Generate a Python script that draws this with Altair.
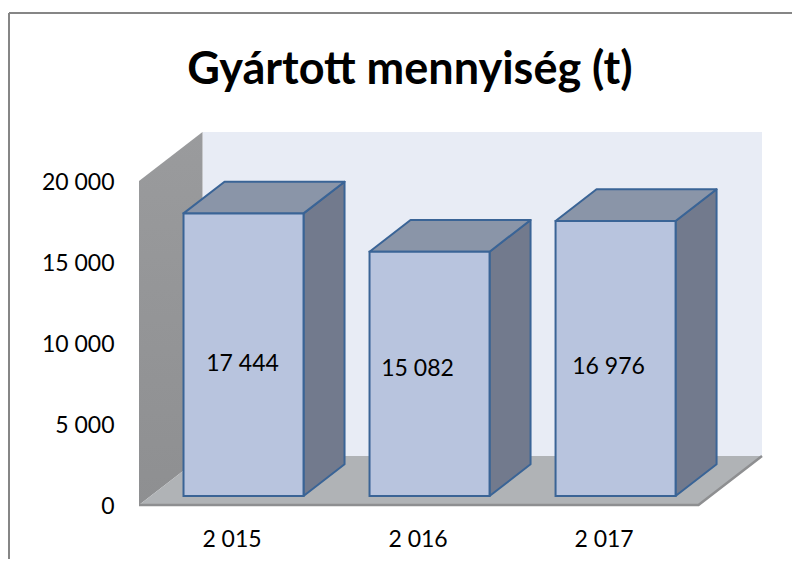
import altair as alt
import pandas as pd

# Chart values
years = ["2 015", "2 016", "2 017"]
values = [17444, 15082, 16976]
value_labels = ["17 444", "15 082", "16 976"]
y_ticks = [0, 5000, 10000, 15000, 20000]

# Layout of the pseudo-3D scene, in scale units
FONT = "Lato"
PX_X = 186.0            # pixels per category
PX_Y = 0.0162           # pixels per unit of value
FRONT_L, FRONT_R = -0.5027, 2.505
WALL_DX = 63.5 / PX_X
WALL_DY = 49 / PX_Y
WALL_TOP = 20000
BAR_L, BAR_W = -0.2634, 120 / PX_X
BAR_BASE = 9 / PX_Y
BAR_DX = 41 / PX_X
BAR_DY = 31.7 / PX_Y
LABEL_NUDGE_X = [-1 / PX_X, -12 / PX_X, -7 / PX_X]
LABEL_Y = [141 / PX_Y, 136 / PX_Y, 138 / PX_Y]

x_dom = [FRONT_L, FRONT_R + WALL_DX]
y_dom = [0, WALL_TOP + WALL_DY]
X = lambda f="x", **k: alt.X(f"{f}:Q", scale=alt.Scale(domain=x_dom, nice=False, zero=False), title=None, **k)
Y = lambda f="y", **k: alt.Y(f"{f}:Q", scale=alt.Scale(domain=y_dom, nice=False, zero=False), title=None, **k)

x_axis = alt.Axis(values=[0, 1, 2], labelExpr="['2 015','2 016','2 017'][datum.value]", domain=False, ticks=False,
                  grid=False, labelFont=FONT, labelFontSize=23, labelColor="#000000", labelPadding=23, labelOffset=-1)
y_axis = alt.Axis(values=y_ticks, labelExpr="replace(format(datum.value, ',d'), ',', ' ')", domain=False, ticks=False,
                  grid=False, labelFont=FONT, labelFontSize=23, labelColor="#000000", labelPadding=25, labelOffset=1)

# Walls and floor
back = pd.DataFrame({"x": [FRONT_L + WALL_DX], "x2": [FRONT_R + WALL_DX],
                     "y": [WALL_DY], "y2": [WALL_TOP + WALL_DY]})
left = pd.DataFrame({"x": [FRONT_L, FRONT_L + WALL_DX], "y": [0, WALL_DY],
                     "y2": [WALL_TOP, WALL_TOP + WALL_DY]})
floor = pd.DataFrame({"y": [0, WALL_DY], "x": [FRONT_L, FRONT_L + WALL_DX],
                      "x2": [FRONT_R, FRONT_R + WALL_DX]})
edge = pd.DataFrame({"x": [FRONT_L, FRONT_R, FRONT_R + WALL_DX], "y": [0, 0, WALL_DY], "o": [0, 1, 2]})

back_l = alt.Chart(back).mark_rect(color="#E8ECF5").encode(X(axis=x_axis), x2="x2:Q", y=Y(axis=y_axis), y2="y2:Q")
left_l = alt.Chart(left).mark_area(
    color=alt.Gradient(gradient="linear", x1=0, y1=0, x2=0, y2=1,
                       stops=[alt.GradientStop(color="#9A9B9D", offset=0),
                              alt.GradientStop(color="#8E8F91", offset=1)]),
    interpolate="linear").encode(X(), Y(), y2="y2:Q")
floor_l = alt.Chart(floor).mark_area(color="#B0B3B6", orient="horizontal").encode(X(), x2="x2:Q", y=Y())
edge_l = alt.Chart(edge).mark_line(color="#8E8F91", strokeWidth=2.5, strokeJoin="miter").encode(
    X(), Y(), order="o:Q")

# Bars
front_rows, side_rows, top_rows, label_rows = [], [], [], []
for i, (yr, v, lab) in enumerate(zip(years, values, value_labels)):
    l = i + BAR_L
    r = l + BAR_W
    t = v + BAR_BASE
    front_rows.append({"x": l, "x2": r, "y": BAR_BASE, "y2": t})
    side_rows += [{"b": yr, "x": r, "y": BAR_BASE, "y2": t},
                  {"b": yr, "x": r + BAR_DX, "y": BAR_BASE + BAR_DY, "y2": t + BAR_DY}]
    top_rows += [{"b": yr, "y": t, "x": l, "x2": r},
                 {"b": yr, "y": t + BAR_DY, "x": l + BAR_DX, "x2": r + BAR_DX}]
    label_rows.append({"x": l + BAR_W / 2 + LABEL_NUDGE_X[i], "y": LABEL_Y[i], "t": lab})

STROKE = "#3A6496"
side_l = alt.Chart(pd.DataFrame(side_rows)).mark_area(
    color="#727A8D", stroke=STROKE, strokeWidth=2, strokeJoin="round").encode(X(), Y(), y2="y2:Q", detail="b:N")
top_l = alt.Chart(pd.DataFrame(top_rows)).mark_area(
    color="#8A95A8", stroke=STROKE, strokeWidth=2, strokeJoin="round", orient="horizontal").encode(
    X(), x2="x2:Q", y=Y(), detail="b:N")
front_l = alt.Chart(pd.DataFrame(front_rows)).mark_rect(
    color="#B8C4DE", stroke=STROKE, strokeWidth=2).encode(X(), x2="x2:Q", y=Y(), y2="y2:Q")
text_l = alt.Chart(pd.DataFrame(label_rows)).mark_text(
    font=FONT, fontSize=23, color="#000000", align="center", baseline="middle").encode(X(), Y(), text="t:N")

# Chart title, placed with the frame above the plot
title_l = alt.Chart(pd.DataFrame({"t": ["Gyártott mennyiség (t)"]})).mark_text(
    font=FONT, fontSize=45, fontWeight="bold", color="#000000", align="center", baseline="middle").encode(
    x=alt.value(271), y=alt.value(-62), text="t:N")

# Chart frame (left and top lines only are visible in the reference)
frame_left = alt.Chart(pd.DataFrame({"a": [0]})).mark_rule(color="#868686", strokeWidth=2).encode(
    x=alt.value(-130), y=alt.value(-119), y2=alt.value(427))
frame_top = alt.Chart(pd.DataFrame({"a": [0]})).mark_rule(color="#868686", strokeWidth=2).encode(
    x=alt.value(-130), x2=alt.value(653), y=alt.value(-119))

chart = alt.layer(back_l, left_l, floor_l, edge_l, side_l, top_l, front_l, text_l, title_l, frame_left, frame_top).properties(
    width=623, height=373,
    padding={"left": 131, "top": 124, "right": 30, "bottom": 54},
    autosize=alt.AutoSizeParams(type="none"),
    background="#FFFFFF",
).configure_view(stroke=None)

chart.save("out.html", embed_options={"renderer": "svg", "actions": False})
